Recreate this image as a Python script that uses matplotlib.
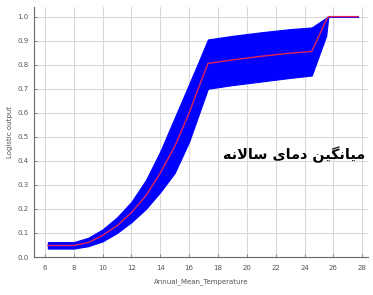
import numpy as np
import matplotlib
matplotlib.use("Agg")
import matplotlib.pyplot as plt

# response curve of annual mean temperature (mean and spread)
temp = [6.2, 8.0, 9.0, 10.0, 11.0, 12.0, 13.0, 14.0, 15.0, 16.0, 16.5, 17.3,
        19.0, 21.0, 23.0, 24.5, 25.5, 25.65, 27.7]
lower = [0.035, 0.035, 0.045, 0.065, 0.10, 0.145, 0.20, 0.27, 0.35, 0.48, 0.565, 0.70,
         0.715, 0.73, 0.745, 0.755, 0.92, 1.0, 1.0]
mean = [0.048, 0.048, 0.06, 0.09, 0.13, 0.185, 0.255, 0.35, 0.46, 0.60, 0.68, 0.805,
        0.82, 0.835, 0.848, 0.855, 0.985, 1.0, 1.0]
upper = [0.062, 0.062, 0.08, 0.115, 0.165, 0.23, 0.32, 0.44, 0.58, 0.72, 0.79, 0.905,
         0.92, 0.935, 0.948, 0.955, 0.995, 1.0, 1.0]

xticks = [6, 8, 10, 12, 14, 16, 18, 20, 22, 24, 26, 28]
yticks = [0.0, 0.1, 0.2, 0.3, 0.4, 0.5, 0.6, 0.7, 0.8, 0.9, 1.0]
xlabel = "Annual_Mean_Temperature"
ylabel = "Logistic output"
caption = "میانگین دمای سالانه"

#######################################
# minimal arabic shaping (matplotlib does not shape)
#######################################
FORMS = {
    "م": (0xFEE1, 0xFEE2, 0xFEE3, 0xFEE4),
    "ی": (0xFBFC, 0xFBFD, 0xFBFE, 0xFBFF),
    "ن": (0xFEE5, 0xFEE6, 0xFEE7, 0xFEE8),
    "گ": (0xFB92, 0xFB93, 0xFB94, 0xFB95),
    "س": (0xFEB1, 0xFEB2, 0xFEB3, 0xFEB4),
    "ل": (0xFEDD, 0xFEDE, 0xFEDF, 0xFEE0),
    "ه": (0xFEE9, 0xFEEA, 0xFEEB, 0xFEEC),
    "ا": (0xFE8D, 0xFE8E, None, None),
    "د": (0xFEA9, 0xFEAA, None, None),
}
LAMALEF = (0xFEFB, 0xFEFC)

def dual(c):
    return c in FORMS and FORMS[c][2] is not None

def shape_word(w):
    out = []
    i = 0
    while i < len(w):
        c = w[i]
        jp = i > 0 and dual(w[i-1])
        if c == "ل" and i + 1 < len(w) and w[i+1] == "ا":
            out.append(chr(LAMALEF[1] if jp else LAMALEF[0]))
            i += 2
            continue
        jn = dual(c) and i + 1 < len(w)
        f = FORMS[c]
        if jp and jn:
            g = f[3]
        elif jp:
            g = f[1]
        elif jn:
            g = f[2]
        else:
            g = f[0]
        out.append(chr(g))
        i += 1
    return "".join(reversed(out))

def shape(text):
    return " ".join(shape_word(w) for w in reversed(text.split(" ")))

#######################################
# plot
#######################################
fig = plt.figure(figsize=(3.73, 2.95), dpi=100)
ax = fig.add_axes([34/373, 38/295, 334/373, 250/295])

ax.grid(True, color="#d9d9d9", lw=0.8)
ax.set_axisbelow(True)
ax.fill_between(temp, lower, upper, color="#0000ff", lw=0.8, edgecolor="#0000ff")
ax.plot(temp, mean, color="#e0245a", lw=1.0)

ax.set_xlim(5.24, 28.4)
ax.set_ylim(0.0, 1.04)
ax.set_xticks(xticks)
ax.set_yticks(yticks)
ax.set_yticklabels(["%.1f" % v for v in yticks])
ax.tick_params(direction="in", length=2, width=0.6, labelsize=5,
               labelcolor="#555555", color="#777777", pad=4)
ax.tick_params(axis="x", pad=6)
for s in ["top", "right"]:
    ax.spines[s].set_visible(False)
for s in ["left", "bottom"]:
    ax.spines[s].set_color("#666666")
    ax.spines[s].set_linewidth(0.8)

ax.set_xlabel(xlabel, fontsize=5, color="#555555", labelpad=5)
ax.set_ylabel(ylabel, fontsize=5, color="#555555", labelpad=3)

ax.text(0.78, 0.408, shape(caption), transform=ax.transAxes,
        ha="center", va="center", fontsize=10.4, fontweight="bold",
        family=["DejaVu Sans"], color="black")

fig.savefig("out.png", dpi=100)
